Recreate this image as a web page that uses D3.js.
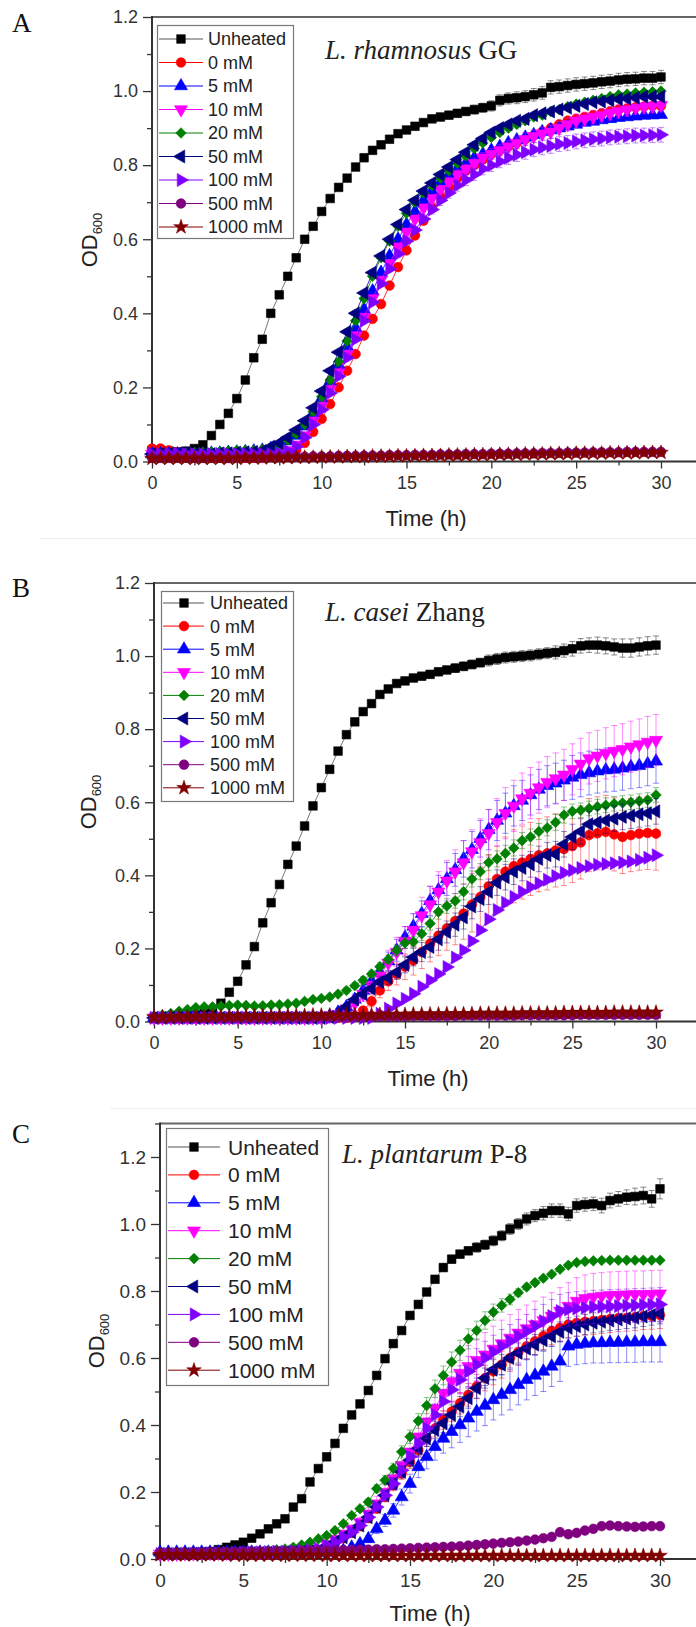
<!DOCTYPE html>
<html><head><meta charset="utf-8">
<script src="https://cdn.jsdelivr.net/npm/d3@7"></script>
<style>body{margin:0;background:#fff}svg{display:block}</style>
</head><body>
<script>
// ---------- categories / ticks ----------
const time = d3.range(0, 30.25, 0.5); // sampling times (h), 61 points
const seriesNames = ["Unheated","0 mM","5 mM","10 mM","20 mM","50 mM","100 mM","500 mM","1000 mM"];
const yTickValues = [0,0.2,0.4,0.6,0.8,1.0,1.2];
const xTickValues = [0,5,10,15,20,25,30];

// ---------- Panel A : L. rhamnosus GG ----------
const A_Unheated = [0.030,0.030,0.028,0.026,0.028,0.035,0.045,0.070,0.100,0.130,
0.170,0.220,0.280,0.330,0.400,0.450,0.500,0.550,0.600,0.635,
0.675,0.710,0.740,0.765,0.795,0.820,0.840,0.855,0.870,0.885,
0.895,0.905,0.915,0.925,0.930,0.935,0.940,0.945,0.950,0.955,
0.960,0.975,0.980,0.982,0.985,0.990,0.995,1.010,1.012,1.015,
1.018,1.020,1.022,1.025,1.027,1.030,1.032,1.033,1.035,1.035,1.038];
const A_0mM = [0.035,0.035,0.030,0.025,0.020,0.015,0.012,0.010,0.010,0.010,
0.010,0.010,0.010,0.010,0.012,0.015,0.020,0.030,0.050,0.080,
0.115,0.155,0.200,0.245,0.290,0.340,0.385,0.425,0.475,0.525,
0.570,0.610,0.650,0.685,0.715,0.740,0.765,0.785,0.800,0.815,
0.830,0.840,0.850,0.860,0.870,0.880,0.890,0.900,0.910,0.920,
0.925,0.930,0.935,0.940,0.945,0.950,0.953,0.956,0.958,0.960,0.960];
const A_5mM = [0.020,0.020,0.020,0.020,0.020,0.020,0.020,0.022,0.022,0.024,
0.025,0.026,0.028,0.030,0.034,0.042,0.055,0.070,0.095,0.130,
0.170,0.215,0.260,0.310,0.360,0.410,0.460,0.510,0.555,0.600,
0.640,0.675,0.705,0.730,0.755,0.775,0.790,0.805,0.820,0.830,
0.840,0.850,0.860,0.868,0.875,0.882,0.890,0.895,0.900,0.905,
0.910,0.915,0.918,0.922,0.925,0.928,0.930,0.932,0.934,0.935,0.936];
const A_10mM = [0.020,0.020,0.020,0.018,0.018,0.018,0.018,0.018,0.018,0.018,
0.018,0.018,0.018,0.018,0.020,0.022,0.030,0.045,0.070,0.110,
0.150,0.195,0.240,0.290,0.340,0.390,0.440,0.490,0.535,0.580,
0.620,0.655,0.685,0.710,0.735,0.755,0.775,0.790,0.805,0.820,
0.830,0.840,0.850,0.860,0.870,0.878,0.885,0.890,0.900,0.910,
0.920,0.925,0.930,0.935,0.940,0.945,0.950,0.955,0.958,0.960,0.962];
const A_20mM = [0.020,0.020,0.020,0.020,0.022,0.024,0.025,0.026,0.027,0.028,
0.030,0.030,0.030,0.032,0.036,0.045,0.058,0.075,0.100,0.135,
0.175,0.220,0.270,0.325,0.380,0.440,0.500,0.550,0.595,0.635,
0.670,0.700,0.725,0.745,0.765,0.785,0.805,0.825,0.845,0.860,
0.875,0.888,0.900,0.910,0.920,0.930,0.935,0.945,0.950,0.958,
0.965,0.970,0.975,0.980,0.985,0.990,0.992,0.995,0.997,0.998,1.000];
const A_50mM = [0.020,0.020,0.020,0.020,0.020,0.020,0.020,0.020,0.022,0.022,
0.024,0.025,0.026,0.028,0.040,0.050,0.065,0.085,0.110,0.145,
0.190,0.245,0.295,0.350,0.400,0.455,0.510,0.555,0.600,0.640,
0.680,0.705,0.730,0.752,0.775,0.795,0.815,0.835,0.855,0.872,
0.888,0.900,0.910,0.920,0.925,0.935,0.940,0.945,0.950,0.955,
0.960,0.965,0.970,0.972,0.975,0.978,0.980,0.982,0.985,0.985,0.985];
const A_100mM = [0.020,0.020,0.020,0.020,0.020,0.020,0.020,0.020,0.020,0.020,
0.020,0.020,0.020,0.020,0.020,0.022,0.028,0.040,0.065,0.100,
0.140,0.185,0.230,0.280,0.330,0.380,0.430,0.480,0.520,0.560,
0.595,0.625,0.655,0.680,0.705,0.725,0.745,0.760,0.775,0.790,
0.800,0.810,0.820,0.828,0.835,0.842,0.848,0.852,0.857,0.860,
0.864,0.867,0.870,0.872,0.875,0.877,0.878,0.880,0.880,0.881,0.882];
const A_500mM = [0.010,0.010,0.010,0.010,0.010,0.010,0.010,0.010,0.010,0.010,
0.011,0.011,0.011,0.012,0.012,0.012,0.013,0.013,0.013,0.014,
0.014,0.014,0.015,0.015,0.015,0.016,0.016,0.016,0.017,0.017,
0.017,0.018,0.018,0.018,0.019,0.019,0.019,0.020,0.020,0.020,
0.021,0.021,0.021,0.022,0.022,0.022,0.023,0.023,0.023,0.024,
0.024,0.024,0.025,0.025,0.025,0.025,0.026,0.026,0.026,0.026,0.026];
const A_1000mM = [0.008,0.008,0.008,0.008,0.008,0.008,0.008,0.008,0.008,0.008,
0.008,0.009,0.009,0.009,0.010,0.010,0.010,0.011,0.011,0.011,
0.012,0.012,0.012,0.013,0.013,0.013,0.014,0.014,0.014,0.015,
0.015,0.015,0.016,0.016,0.016,0.017,0.017,0.017,0.018,0.018,
0.018,0.019,0.019,0.019,0.020,0.020,0.020,0.021,0.021,0.021,
0.022,0.022,0.022,0.022,0.023,0.023,0.023,0.023,0.024,0.024,0.024];
// error bars (SD) panel A
const A_err_Unheated = [0.004,0.004,0.004,0.004,0.004,0.004,0.004,0.004,0.004,0.004,
0.005,0.005,0.005,0.005,0.005,0.005,0.005,0.005,0.005,0.005,
0.006,0.006,0.006,0.006,0.006,0.006,0.006,0.006,0.006,0.006,
0.008,0.008,0.008,0.008,0.010,0.010,0.010,0.010,0.012,0.012,
0.014,0.015,0.015,0.016,0.016,0.017,0.017,0.018,0.018,0.018,
0.018,0.018,0.018,0.018,0.018,0.018,0.018,0.018,0.018,0.018,0.018];
const A_err_10mM = [0,0,0,0,0,0,0,0,0,0, 0,0,0,0,0,0,0,0,0,0,
0.004,0.004,0.004,0.004,0.004,0.004,0.004,0.004,0.004,0.004,
0.008,0.008,0.010,0.010,0.010,0.012,0.012,0.012,0.014,0.014,
0.015,0.015,0.016,0.016,0.017,0.017,0.018,0.018,0.018,0.018,
0.018,0.018,0.018,0.018,0.018,0.018,0.018,0.018,0.018,0.018,0.018];
const A_err_100mM = [0,0,0,0,0,0,0,0,0,0, 0,0,0,0,0,0,0,0,0,0,
0.004,0.004,0.004,0.004,0.005,0.005,0.006,0.006,0.008,0.008,
0.010,0.010,0.012,0.012,0.014,0.014,0.015,0.015,0.016,0.016,
0.017,0.017,0.018,0.018,0.019,0.019,0.020,0.020,0.020,0.020,
0.020,0.020,0.020,0.020,0.020,0.020,0.020,0.020,0.020,0.020,0.020];

// ---------- Panel B : L. casei Zhang ----------
const B_Unheated = [0.010,0.010,0.012,0.013,0.015,0.018,0.022,0.030,0.050,0.080,
0.110,0.155,0.205,0.270,0.325,0.375,0.430,0.480,0.535,0.590,
0.640,0.690,0.740,0.785,0.820,0.848,0.870,0.895,0.910,0.925,
0.932,0.940,0.945,0.950,0.957,0.962,0.967,0.972,0.977,0.982,
0.988,0.992,0.996,0.998,1.000,1.002,1.005,1.008,1.010,1.015,
1.020,1.028,1.030,1.030,1.028,1.025,1.022,1.022,1.025,1.028,1.030];
const B_0mM = [0.010,0.010,0.010,0.010,0.010,0.010,0.010,0.010,0.010,0.010,
0.010,0.010,0.010,0.010,0.010,0.010,0.010,0.010,0.010,0.010,
0.010,0.010,0.010,0.010,0.015,0.030,0.055,0.085,0.110,0.130,
0.150,0.167,0.190,0.213,0.235,0.255,0.275,0.295,0.320,0.341,
0.370,0.390,0.410,0.425,0.435,0.445,0.455,0.460,0.468,0.472,
0.480,0.490,0.510,0.515,0.519,0.512,0.505,0.510,0.514,0.516,0.514];
const B_5mM = [0.010,0.010,0.010,0.010,0.010,0.010,0.010,0.010,0.010,0.010,
0.010,0.010,0.010,0.010,0.010,0.010,0.010,0.010,0.010,0.010,
0.010,0.015,0.025,0.040,0.060,0.085,0.110,0.135,0.165,0.195,
0.230,0.260,0.295,0.330,0.360,0.390,0.415,0.445,0.470,0.500,
0.525,0.550,0.570,0.590,0.605,0.620,0.635,0.645,0.652,0.660,
0.668,0.675,0.680,0.685,0.688,0.690,0.693,0.697,0.700,0.705,0.712];
const B_10mM = [0.010,0.010,0.010,0.010,0.010,0.010,0.010,0.010,0.010,0.010,
0.010,0.010,0.010,0.010,0.010,0.010,0.010,0.010,0.010,0.010,
0.010,0.015,0.020,0.035,0.050,0.075,0.100,0.125,0.160,0.190,
0.220,0.250,0.290,0.320,0.355,0.385,0.410,0.435,0.465,0.490,
0.515,0.545,0.570,0.590,0.610,0.625,0.640,0.655,0.665,0.675,
0.690,0.705,0.720,0.727,0.734,0.740,0.745,0.752,0.758,0.765,0.770];
const B_20mM = [0.015,0.018,0.022,0.028,0.033,0.038,0.040,0.040,0.042,0.044,
0.045,0.044,0.042,0.043,0.045,0.046,0.048,0.050,0.055,0.060,
0.063,0.067,0.075,0.085,0.098,0.113,0.130,0.150,0.170,0.195,
0.215,0.218,0.240,0.268,0.300,0.316,0.330,0.355,0.390,0.410,
0.435,0.445,0.460,0.475,0.495,0.505,0.520,0.530,0.545,0.565,
0.575,0.578,0.583,0.588,0.592,0.596,0.598,0.600,0.603,0.606,0.620];
const B_50mM = [0.010,0.010,0.010,0.010,0.010,0.010,0.010,0.010,0.010,0.010,
0.010,0.010,0.010,0.010,0.010,0.010,0.010,0.010,0.010,0.010,
0.010,0.012,0.020,0.040,0.060,0.075,0.090,0.108,0.120,0.135,
0.155,0.176,0.190,0.204,0.225,0.245,0.265,0.285,0.315,0.335,
0.355,0.380,0.395,0.410,0.420,0.430,0.445,0.455,0.458,0.485,
0.505,0.520,0.540,0.545,0.550,0.555,0.560,0.563,0.567,0.570,0.575];
const B_100mM = [0.010,0.010,0.010,0.010,0.010,0.010,0.010,0.010,0.010,0.010,
0.010,0.010,0.010,0.010,0.010,0.010,0.010,0.010,0.010,0.010,
0.010,0.010,0.010,0.010,0.010,0.010,0.010,0.021,0.035,0.049,
0.062,0.076,0.095,0.113,0.130,0.149,0.175,0.195,0.220,0.250,
0.280,0.305,0.325,0.341,0.355,0.368,0.378,0.388,0.398,0.407,
0.414,0.420,0.425,0.429,0.431,0.433,0.435,0.438,0.442,0.448,0.455];
const B_500mM = [0.010,0.010,0.010,0.010,0.010,0.010,0.010,0.010,0.010,0.010,
0.010,0.010,0.011,0.011,0.011,0.011,0.012,0.012,0.012,0.012,
0.012,0.013,0.013,0.013,0.013,0.013,0.014,0.014,0.014,0.014,
0.014,0.015,0.015,0.015,0.015,0.015,0.015,0.016,0.016,0.016,
0.016,0.016,0.016,0.016,0.017,0.017,0.017,0.017,0.017,0.017,
0.017,0.018,0.018,0.018,0.018,0.018,0.018,0.018,0.018,0.018,0.018];
const B_1000mM = [0.012,0.012,0.012,0.013,0.013,0.013,0.013,0.014,0.014,0.014,
0.014,0.015,0.015,0.015,0.015,0.016,0.016,0.016,0.016,0.017,
0.017,0.017,0.017,0.018,0.018,0.018,0.018,0.019,0.019,0.019,
0.019,0.020,0.020,0.020,0.020,0.021,0.021,0.021,0.021,0.022,
0.022,0.022,0.022,0.022,0.023,0.023,0.023,0.023,0.023,0.024,
0.024,0.024,0.024,0.024,0.024,0.025,0.025,0.025,0.025,0.025,0.025];
const B_err_Unheated = [0.003,0.003,0.003,0.003,0.003,0.003,0.003,0.003,0.003,0.003,
0.005,0.005,0.005,0.005,0.005,0.005,0.005,0.005,0.005,0.005,
0.008,0.008,0.008,0.008,0.008,0.008,0.008,0.008,0.008,0.008,
0.010,0.010,0.010,0.010,0.010,0.010,0.012,0.012,0.012,0.012,
0.015,0.015,0.015,0.015,0.015,0.015,0.015,0.015,0.018,0.018,
0.020,0.020,0.020,0.022,0.022,0.022,0.025,0.025,0.025,0.025,0.025];
const B_err_0mM = [0,0,0,0,0,0,0,0,0,0, 0,0,0,0,0,0,0,0,0,0,
0,0,0,0,0.005,0.010,0.015,0.020,0.025,0.030,
0.035,0.040,0.045,0.050,0.055,0.060,0.065,0.070,0.075,0.080,
0.085,0.090,0.095,0.100,0.100,0.100,0.100,0.100,0.100,0.100,
0.100,0.100,0.100,0.100,0.100,0.100,0.100,0.100,0.100,0.100,0.100];
const B_err_5mM = [0,0,0,0,0,0,0,0,0,0, 0,0,0,0,0,0,0,0,0,0,
0,0.005,0.010,0.010,0.015,0.015,0.020,0.020,0.025,0.030,
0.030,0.035,0.035,0.040,0.040,0.045,0.045,0.050,0.050,0.050,
0.055,0.055,0.055,0.055,0.055,0.055,0.055,0.055,0.055,0.055,
0.060,0.060,0.060,0.060,0.060,0.060,0.060,0.060,0.060,0.060,0.060];
const B_err_10mM = [0,0,0,0,0,0,0,0,0,0, 0,0,0,0,0,0,0,0,0,0,
0,0.005,0.010,0.015,0.020,0.020,0.025,0.030,0.035,0.040,
0.040,0.045,0.050,0.050,0.055,0.055,0.060,0.060,0.060,0.065,
0.065,0.065,0.070,0.070,0.070,0.070,0.070,0.070,0.070,0.070,
0.070,0.070,0.070,0.070,0.070,0.070,0.070,0.070,0.070,0.070,0.070];
const B_err_20mM = [0.003,0.003,0.003,0.003,0.003,0.003,0.003,0.003,0.003,0.003,
0.003,0.003,0.003,0.003,0.003,0.003,0.003,0.003,0.003,0.003,
0.005,0.005,0.005,0.008,0.008,0.010,0.010,0.012,0.012,0.015,
0.015,0.015,0.018,0.018,0.020,0.020,0.020,0.022,0.022,0.022,
0.022,0.022,0.022,0.022,0.022,0.022,0.022,0.022,0.022,0.022,
0.020,0.020,0.020,0.020,0.020,0.020,0.020,0.020,0.020,0.020,0.020];
const B_err_50mM = [0,0,0,0,0,0,0,0,0,0, 0,0,0,0,0,0,0,0,0,0,
0,0,0.005,0.008,0.010,0.012,0.014,0.016,0.018,0.020,
0.022,0.024,0.026,0.028,0.030,0.030,0.032,0.032,0.034,0.034,
0.035,0.035,0.035,0.035,0.035,0.035,0.035,0.035,0.035,0.035,
0.035,0.035,0.035,0.035,0.035,0.035,0.035,0.035,0.035,0.035,0.035];

// ---------- Panel C : L. plantarum P-8 ----------
const C_Unheated = [0.015,0.015,0.016,0.017,0.018,0.020,0.022,0.028,0.035,0.042,
0.050,0.062,0.075,0.090,0.105,0.120,0.155,0.180,0.230,0.270,
0.305,0.345,0.390,0.430,0.463,0.503,0.548,0.598,0.643,0.682,
0.727,0.760,0.797,0.835,0.870,0.895,0.910,0.920,0.930,0.938,
0.950,0.965,0.985,1.000,1.015,1.025,1.032,1.040,1.040,1.030,
1.055,1.058,1.060,1.055,1.070,1.075,1.080,1.082,1.085,1.075,1.105];
const C_0mM = [0.015,0.015,0.015,0.015,0.016,0.016,0.016,0.017,0.017,0.017,
0.018,0.018,0.018,0.019,0.019,0.020,0.020,0.021,0.022,0.025,
0.035,0.048,0.062,0.078,0.098,0.122,0.150,0.185,0.220,0.255,
0.290,0.325,0.360,0.390,0.415,0.440,0.465,0.490,0.515,0.540,
0.560,0.580,0.600,0.618,0.635,0.650,0.665,0.680,0.690,0.700,
0.705,0.708,0.710,0.713,0.716,0.719,0.720,0.722,0.725,0.726,0.728];
const C_5mM = [0.020,0.020,0.020,0.020,0.020,0.020,0.020,0.020,0.020,0.020,
0.020,0.020,0.020,0.020,0.020,0.020,0.020,0.020,0.020,0.020,
0.020,0.020,0.025,0.035,0.045,0.060,0.090,0.115,0.145,0.185,
0.225,0.275,0.305,0.335,0.360,0.380,0.400,0.420,0.440,0.458,
0.475,0.490,0.505,0.520,0.535,0.548,0.560,0.575,0.590,0.635,
0.640,0.643,0.645,0.645,0.646,0.646,0.647,0.647,0.648,0.648,0.648];
const C_10mM = [0.015,0.015,0.015,0.016,0.016,0.017,0.017,0.018,0.018,0.019,
0.019,0.020,0.020,0.021,0.022,0.022,0.023,0.024,0.026,0.030,
0.045,0.060,0.075,0.090,0.110,0.135,0.165,0.200,0.240,0.280,
0.320,0.365,0.410,0.450,0.495,0.530,0.555,0.575,0.593,0.610,
0.627,0.643,0.660,0.675,0.688,0.700,0.712,0.725,0.740,0.755,
0.770,0.778,0.782,0.785,0.787,0.788,0.789,0.790,0.790,0.791,0.792];
const C_20mM = [0.015,0.015,0.015,0.015,0.015,0.015,0.016,0.017,0.018,0.019,
0.020,0.021,0.022,0.024,0.027,0.030,0.035,0.042,0.050,0.060,
0.070,0.085,0.105,0.130,0.150,0.170,0.210,0.235,0.270,0.320,
0.365,0.412,0.458,0.508,0.548,0.588,0.623,0.657,0.682,0.712,
0.737,0.757,0.775,0.795,0.812,0.825,0.838,0.850,0.865,0.877,
0.885,0.888,0.890,0.891,0.892,0.892,0.892,0.892,0.892,0.892,0.892];
const C_50mM = [0.015,0.015,0.015,0.015,0.016,0.016,0.016,0.017,0.017,0.017,
0.018,0.018,0.018,0.019,0.019,0.020,0.020,0.021,0.022,0.025,
0.035,0.050,0.065,0.080,0.100,0.125,0.155,0.190,0.225,0.260,
0.295,0.330,0.360,0.385,0.405,0.430,0.455,0.480,0.510,0.540,
0.565,0.580,0.600,0.615,0.628,0.640,0.653,0.665,0.678,0.690,
0.695,0.700,0.705,0.708,0.712,0.715,0.718,0.720,0.724,0.728,0.732];
const C_100mM = [0.015,0.015,0.015,0.016,0.016,0.017,0.017,0.018,0.018,0.019,
0.019,0.020,0.020,0.021,0.022,0.022,0.023,0.024,0.026,0.030,
0.040,0.050,0.065,0.080,0.100,0.125,0.155,0.190,0.225,0.265,
0.305,0.345,0.390,0.430,0.470,0.505,0.535,0.560,0.580,0.600,
0.618,0.635,0.650,0.665,0.680,0.695,0.710,0.725,0.740,0.745,
0.748,0.750,0.752,0.753,0.754,0.755,0.756,0.757,0.758,0.759,0.760];
const C_500mM = [0.018,0.018,0.018,0.018,0.019,0.019,0.020,0.020,0.020,0.021,
0.021,0.022,0.022,0.022,0.023,0.023,0.024,0.024,0.025,0.025,
0.026,0.026,0.027,0.027,0.028,0.028,0.029,0.029,0.030,0.031,
0.032,0.033,0.034,0.035,0.036,0.037,0.038,0.040,0.042,0.044,
0.046,0.048,0.050,0.052,0.055,0.058,0.062,0.066,0.080,0.074,
0.078,0.085,0.090,0.098,0.100,0.098,0.097,0.096,0.097,0.098,0.098];
const C_1000mM = [0.012,0.012,0.012,0.012,0.012,0.012,0.012,0.012,0.011,0.011,
0.011,0.011,0.011,0.011,0.011,0.011,0.011,0.011,0.011,0.011,
0.010,0.010,0.010,0.010,0.010,0.010,0.010,0.010,0.010,0.010,
0.010,0.010,0.010,0.010,0.010,0.010,0.010,0.010,0.010,0.010,
0.010,0.010,0.010,0.010,0.010,0.010,0.010,0.010,0.010,0.010,
0.010,0.010,0.010,0.010,0.010,0.010,0.010,0.010,0.010,0.010,0.010];
const C_err_Unheated = [0.003,0.003,0.003,0.003,0.003,0.003,0.003,0.003,0.003,0.003,
0.004,0.004,0.004,0.004,0.004,0.004,0.005,0.005,0.005,0.005,
0.006,0.006,0.006,0.006,0.006,0.006,0.008,0.008,0.008,0.008,
0.010,0.010,0.010,0.010,0.012,0.012,0.012,0.012,0.014,0.014,
0.015,0.015,0.016,0.016,0.018,0.018,0.020,0.020,0.020,0.020,
0.020,0.020,0.020,0.022,0.022,0.022,0.022,0.025,0.025,0.025,0.030];
const C_err_0mM = [0,0,0,0,0,0,0,0,0,0, 0,0,0,0,0,0,0,0,0,0,
0.003,0.004,0.005,0.006,0.008,0.010,0.012,0.014,0.016,0.018,
0.020,0.022,0.024,0.026,0.028,0.030,0.032,0.034,0.036,0.038,
0.040,0.040,0.040,0.040,0.040,0.040,0.040,0.040,0.040,0.040,
0.040,0.040,0.040,0.040,0.040,0.040,0.040,0.040,0.040,0.040,0.040];
const C_err_5mM = [0,0,0,0,0,0,0,0,0,0, 0,0,0,0,0,0,0,0,0,0,
0,0,0.004,0.006,0.008,0.010,0.014,0.018,0.020,0.024,
0.028,0.032,0.036,0.040,0.044,0.048,0.052,0.055,0.058,0.060,
0.060,0.060,0.060,0.060,0.060,0.060,0.060,0.060,0.060,0.060,
0.060,0.060,0.060,0.060,0.060,0.060,0.060,0.060,0.060,0.060,0.060];
const C_err_10mM = [0,0,0,0,0,0,0,0,0,0, 0,0,0,0,0,0,0,0,0,0,
0.004,0.006,0.008,0.010,0.014,0.018,0.022,0.026,0.030,0.034,
0.038,0.042,0.046,0.050,0.054,0.058,0.060,0.062,0.064,0.066,
0.068,0.070,0.070,0.070,0.070,0.070,0.070,0.070,0.070,0.070,
0.070,0.070,0.070,0.070,0.070,0.070,0.070,0.070,0.070,0.070,0.070];
const C_err_20mM = [0,0,0,0,0,0,0,0,0,0, 0,0,0,0,0,0,0,0,0,0,
0.003,0.004,0.005,0.006,0.008,0.010,0.012,0.014,0.016,0.018,
0.020,0.022,0.024,0.026,0.028,0.030,0.030,0.030,0.028,0.026,
0.024,0.020,0.016,0.012,0.010,0.008,0.006,0.005,0.005,0.005,
0.005,0.005,0.005,0.005,0.005,0.005,0.005,0.005,0.005,0.005,0.005];
const C_err_50mM = [0,0,0,0,0,0,0,0,0,0, 0,0,0,0,0,0,0,0,0,0,
0.003,0.004,0.005,0.006,0.008,0.010,0.012,0.014,0.016,0.018,
0.020,0.022,0.024,0.026,0.028,0.030,0.030,0.030,0.030,0.030,
0.030,0.030,0.030,0.030,0.030,0.030,0.030,0.030,0.030,0.030,
0.030,0.030,0.030,0.030,0.030,0.030,0.030,0.030,0.030,0.030,0.030];
const C_err_100mM = [0,0,0,0,0,0,0,0,0,0, 0,0,0,0,0,0,0,0,0,0,
0.003,0.004,0.005,0.006,0.008,0.010,0.012,0.015,0.018,0.021,
0.024,0.027,0.030,0.033,0.036,0.039,0.042,0.045,0.048,0.050,
0.050,0.050,0.050,0.050,0.050,0.050,0.050,0.050,0.050,0.050,
0.050,0.050,0.050,0.050,0.050,0.050,0.050,0.050,0.050,0.050,0.050];

// ---------- styles ----------
const colors = ["#000000","#ff0000","#0000ff","#ff00ff","#008000","#000080","#8000ff","#800080","#800000"];
const lineColors = ["#555555","#ff0000","#0000ff","#ff00ff","#008000","#000080","#8000ff","#800080","#800000"];
const shapes = [
  {type:d3.symbolSquare, rot:0, size:74},
  {type:d3.symbolCircle, rot:0, size:74},
  {type:d3.symbolTriangle, rot:0, size:74},
  {type:d3.symbolTriangle, rot:180, size:74},
  {type:d3.symbolSquare, rot:45, size:56},
  {type:d3.symbolTriangle, rot:-90, size:74},
  {type:d3.symbolTriangle, rot:90, size:74},
  {type:d3.symbolCircle, rot:0, size:74},
  {type:d3.symbolStar, rot:0, size:66}
];

const panels = [
  { letter:"A", values:[A_Unheated,A_0mM,A_5mM,A_10mM,A_20mM,A_50mM,A_100mM,A_500mM,A_1000mM],
    errors:[A_err_Unheated,null,null,A_err_10mM,null,null,A_err_100mM,null,null],
    titleIt:"L. rhamnosus", titleRest:" GG",
    layout:{x0:152,x30:661,yZero:461.5,y12:17,yTopVal:1.2,letterY:32,titleX:325,titleY:59,
      ylabX:97,ylabY:240,xlabX:426,xlabY:526,tickFs:18,
      lg:{x:157,y:25,w:136,h:213,row0:39,step:23.5,lx1:159,lx2:203,mx:181,tx:208,fs:18}} },
  { letter:"B", values:[B_Unheated,B_0mM,B_5mM,B_10mM,B_20mM,B_50mM,B_100mM,B_500mM,B_1000mM],
    errors:[B_err_Unheated,B_err_0mM,B_err_5mM,B_err_10mM,B_err_20mM,B_err_50mM,null,null,null],
    titleIt:"L. casei", titleRest:" Zhang",
    layout:{x0:154,x30:656,yZero:1021.5,y12:583,yTopVal:1.2,letterY:597,titleX:325,titleY:621,
      ylabX:96,ylabY:802,xlabX:428,xlabY:1086,tickFs:18,
      lg:{x:161,y:591,w:132,h:210,row0:603,step:23.1,lx1:163,lx2:204,mx:184,tx:210,fs:18}} },
  { letter:"C", values:[C_Unheated,C_0mM,C_5mM,C_10mM,C_20mM,C_50mM,C_100mM,C_500mM,C_1000mM],
    errors:[C_err_Unheated,C_err_0mM,C_err_5mM,C_err_10mM,C_err_20mM,C_err_50mM,C_err_100mM,null,null],
    titleIt:"L. plantarum", titleRest:" P-8",
    layout:{x0:160,x30:660,yZero:1559,y12:1157,yTopVal:1.3,letterY:1143,titleX:342,titleY:1163,
      ylabX:104,ylabY:1341,xlabX:430,xlabY:1621,tickFs:19,
      lg:{x:166,y:1128,w:162,h:257,row0:1147,step:27.9,lx1:168,lx2:220,mx:194,tx:228,fs:21}} }
];

const W = 696, H = 1627;
const svg = d3.select("body").append("svg").attr("width",W).attr("height",H)
  .style("font-family","'Liberation Sans', Arial, sans-serif");

// faint separators between sub-figures
svg.append("line").attr("x1",40).attr("x2",W).attr("y1",538.5).attr("y2",538.5).attr("stroke","#ececec");
svg.append("line").attr("x1",110).attr("x2",W).attr("y1",1108.5).attr("y2",1108.5).attr("stroke","#f0f0f0");

function symbolPath(i){ return d3.symbol().type(shapes[i].type).size(shapes[i].size)(); }

panels.forEach(p => {
  const L = p.layout;
  const x = d3.scaleLinear().domain([0,30]).range([L.x0, L.x30]);
  const y = d3.scaleLinear().domain([0,1.2]).range([L.yZero, L.y12]);
  const g = svg.append("g");
  const yTop = y(L.yTopVal);
  const right = W + 4;

  // frame
  g.append("line").attr("x1",L.x0).attr("x2",right).attr("y1",yTop).attr("y2",yTop)
    .attr("stroke","#666").attr("stroke-width",2);

  // y axis major/minor
  const yMajor = g.append("g").attr("transform",`translate(${L.x0},0)`)
    .call(d3.axisLeft(y).tickValues(yTickValues).tickFormat(d3.format(".1f")).tickSize(9).tickPadding(5));
  const minorY = d3.range(1, Math.round(L.yTopVal*10)+1, 2).map(v => v/10);
  const yMinor = g.append("g").attr("transform",`translate(${L.x0},0)`)
    .call(d3.axisLeft(y).tickValues(minorY).tickFormat("").tickSize(5));
  // x axis major/minor
  const xMajor = g.append("g").attr("transform",`translate(0,${L.yZero})`)
    .call(d3.axisBottom(x).tickValues(xTickValues).tickFormat(d3.format("d")).tickSize(7).tickPadding(8));
  const xMinor = g.append("g").attr("transform",`translate(0,${L.yZero})`)
    .call(d3.axisBottom(x).tickValues([2.5,7.5,12.5,17.5,22.5,27.5]).tickSize(4).tickFormat(""));
  [yMajor,yMinor,xMajor,xMinor].forEach(a => {
    a.select(".domain").remove();
    a.selectAll(".tick line").attr("stroke","#333").attr("stroke-width",1.3);
    a.selectAll("text").attr("font-size",L.tickFs).attr("fill","#333")
      .attr("font-family","'Liberation Sans', Arial, sans-serif");
  });
  g.append("line").attr("x1",L.x0).attr("x2",L.x0).attr("y1",yTop-1).attr("y2",L.yZero)
    .attr("stroke","#333").attr("stroke-width",2);
  g.append("line").attr("x1",L.x0).attr("x2",right).attr("y1",L.yZero).attr("y2",L.yZero)
    .attr("stroke","#333").attr("stroke-width",2);

  // series
  const lineGen = d3.line().x((d,i) => x(time[i])).y(d => y(d));
  p.values.forEach((vals, si) => {
    const sg = g.append("g");
    const err = p.errors[si];
    if (err) {
      const eg = sg.append("g").attr("stroke",colors[si]).attr("stroke-opacity",0.45).attr("stroke-width",1);
      vals.forEach((v,i) => {
        const e = err[i]; if (!e) return;
        const xx = x(time[i]), y1 = y(v-e), y2 = y(v+e);
        eg.append("line").attr("x1",xx).attr("x2",xx).attr("y1",y1).attr("y2",y2);
        eg.append("line").attr("x1",xx-3).attr("x2",xx+3).attr("y1",y1).attr("y2",y1);
        eg.append("line").attr("x1",xx-3).attr("x2",xx+3).attr("y1",y2).attr("y2",y2);
      });
    }
    sg.append("path").datum(vals).attr("d",lineGen).attr("fill","none")
      .attr("stroke",lineColors[si]).attr("stroke-width",1).attr("stroke-opacity",0.8);
    const sp = symbolPath(si);
    sg.selectAll("path.m").data(vals).enter().append("path").attr("class","m")
      .attr("d",sp)
      .attr("transform",(d,i) => `translate(${x(time[i])},${y(d)}) rotate(${shapes[si].rot})`)
      .attr("fill",colors[si]).attr("stroke",colors[si]).attr("stroke-width",0.6);
  });

  // legend
  const lg = L.lg;
  const leg = g.append("g");
  leg.append("rect").attr("x",lg.x+0.5).attr("y",lg.y+0.5).attr("width",lg.w).attr("height",lg.h)
    .attr("fill","#fff").attr("stroke","#777").attr("stroke-width",1.2);
  seriesNames.forEach((name, si) => {
    const ry = lg.row0 + si*lg.step;
    leg.append("line").attr("x1",lg.lx1).attr("x2",lg.lx2).attr("y1",ry).attr("y2",ry)
      .attr("stroke",lineColors[si]).attr("stroke-width",1);
    leg.append("path").attr("d",symbolPath(si))
      .attr("transform",`translate(${lg.mx},${ry}) rotate(${shapes[si].rot})`)
      .attr("fill",colors[si]).attr("stroke",colors[si]).attr("stroke-width",0.6);
    leg.append("text").attr("x",lg.tx).attr("y",ry).attr("dy","0.36em")
      .attr("font-size",lg.fs).attr("fill","#222").text(name);
  });

  // title (species)
  const t = g.append("text").attr("x",L.titleX).attr("y",L.titleY)
    .attr("font-family","'Liberation Serif','Times New Roman',serif").attr("font-size",27).attr("fill","#222");
  t.append("tspan").attr("font-style","italic").text(p.titleIt);
  t.append("tspan").text(p.titleRest);

  // panel letter
  g.append("text").attr("x",12).attr("y",L.letterY)
    .attr("font-family","'Liberation Serif','Times New Roman',serif").attr("font-size",27).attr("fill","#111")
    .text(p.letter);

  // axis titles
  const yl = g.append("text").attr("transform",`translate(${L.ylabX},${L.ylabY}) rotate(-90)`)
    .attr("text-anchor","middle").attr("font-size",22).attr("fill","#222");
  yl.append("tspan").text("OD");
  yl.append("tspan").attr("font-size",13).attr("dy",5).text("600");
  g.append("text").attr("x",L.xlabX).attr("y",L.xlabY).attr("text-anchor","middle")
    .attr("font-size",22).attr("fill","#222").text("Time (h)");
});
</script>
</body></html>
